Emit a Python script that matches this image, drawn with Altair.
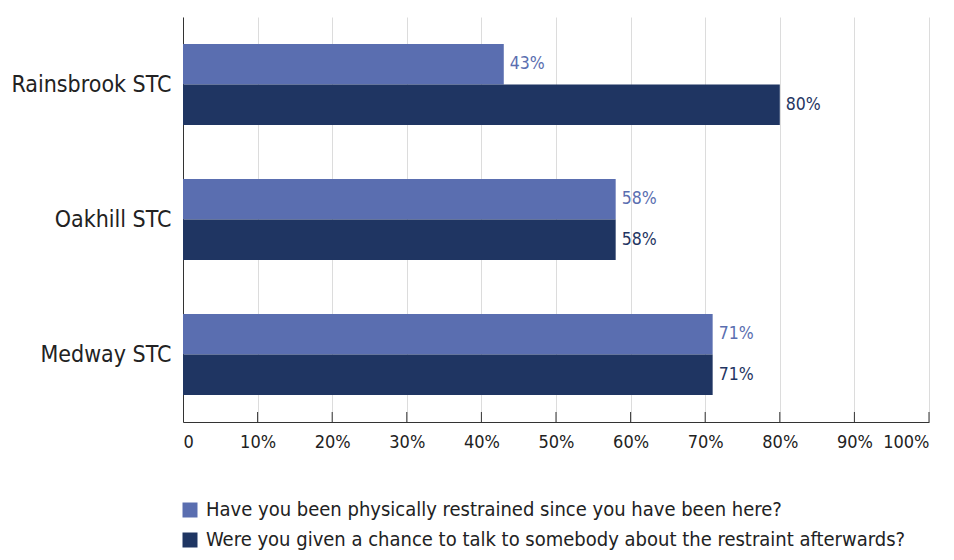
import altair as alt
import pandas as pd

categories = ["Rainsbrook STC", "Oakhill STC", "Medway STC"]
series = [
    "Have you been physically restrained since you have been here?",
    "Were you given a chance to talk to somebody about the restraint afterwards?",
]
restrained = [43, 58, 71]
talked = [80, 58, 71]
tick_values = [0, 10, 20, 30, 40, 50, 60, 70, 80, 90, 100]
colors = ["#5a6eb0", "#1f3562"]

rows = []
for c, a, b in zip(categories, restrained, talked):
    rows.append({"site": c, "question": series[0], "value": a, "label": f"{a}%"})
    rows.append({"site": c, "question": series[1], "value": b, "label": f"{b}%"})
df = pd.DataFrame(rows)
ticks_df = pd.DataFrame({"t": tick_values[1:]})

FONT = "DejaVu Sans Condensed, DejaVu Sans, sans-serif"
W, H = 746, 405

x_scale = alt.Scale(domain=[0, 100], nice=False)
y_scale = alt.Scale(domain=categories, paddingInner=0.4, paddingOuter=0.2)
color_scale = alt.Scale(domain=series, range=colors)

x_axis = alt.Axis(
    values=tick_values,
    labelExpr="datum.value == 0 ? '0' : datum.value + '%'",
    title=None,
    grid=True,
    gridColor="#dcdcdc",
    ticks=False,
    domainColor="#333333",
    labelFont=FONT,
    labelFontSize=18,
    labelColor="#222222",
    labelPadding=11,
)
y_axis = alt.Axis(
    title=None,
    ticks=False,
    domainColor="#333333",
    labelFont=FONT,
    labelFontSize=23,
    labelColor="#222222",
    labelPadding=12,
    labelLimit=400,
)

base = alt.Chart(df)

bars = base.mark_bar().encode(
    x=alt.X("value:Q", scale=x_scale, axis=x_axis),
    y=alt.Y("site:N", scale=y_scale, axis=y_axis, sort=categories),
    yOffset=alt.YOffset("question:N", sort=series),
    color=alt.Color(
        "question:N",
        scale=color_scale,
        sort=series,
        legend=alt.Legend(
            title=None,
            orient="none",
            legendX=-3,
            legendY=H + 78,
            direction="vertical",
            symbolType="square",
            symbolSize=225,
            symbolStrokeWidth=0,
            labelFont=FONT,
            labelFontSize=20,
            labelColor="#222222",
            labelLimit=1000,
            rowPadding=10,
            labelOffset=6,
        ),
    ),
)

labels = base.mark_text(align="left", baseline="middle", dx=6, font=FONT, fontSize=17.5).encode(
    x=alt.X("value:Q", scale=x_scale),
    y=alt.Y("site:N", scale=y_scale, sort=categories),
    yOffset=alt.YOffset("question:N", sort=series),
    text="label:N",
    color=alt.Color("question:N", scale=color_scale, sort=series, legend=None),
)

inner_ticks = alt.Chart(ticks_df).mark_rule(color="#333333", strokeWidth=1).encode(
    x=alt.X("t:Q", scale=x_scale),
    y=alt.value(H - 10),
    y2=alt.value(H),
)

chart = (
    alt.layer(bars, labels, inner_ticks)
    .properties(
        width=W,
        height=H,
        autosize=alt.AutoSizeParams(type="none"),
        padding={"left": 175, "top": 9, "right": 17, "bottom": 130},
    )
    .configure_view(stroke=None)
    .configure_axis(domainWidth=1)
)

chart.save("out.html", embed_options={"renderer": "svg", "actions": False})
